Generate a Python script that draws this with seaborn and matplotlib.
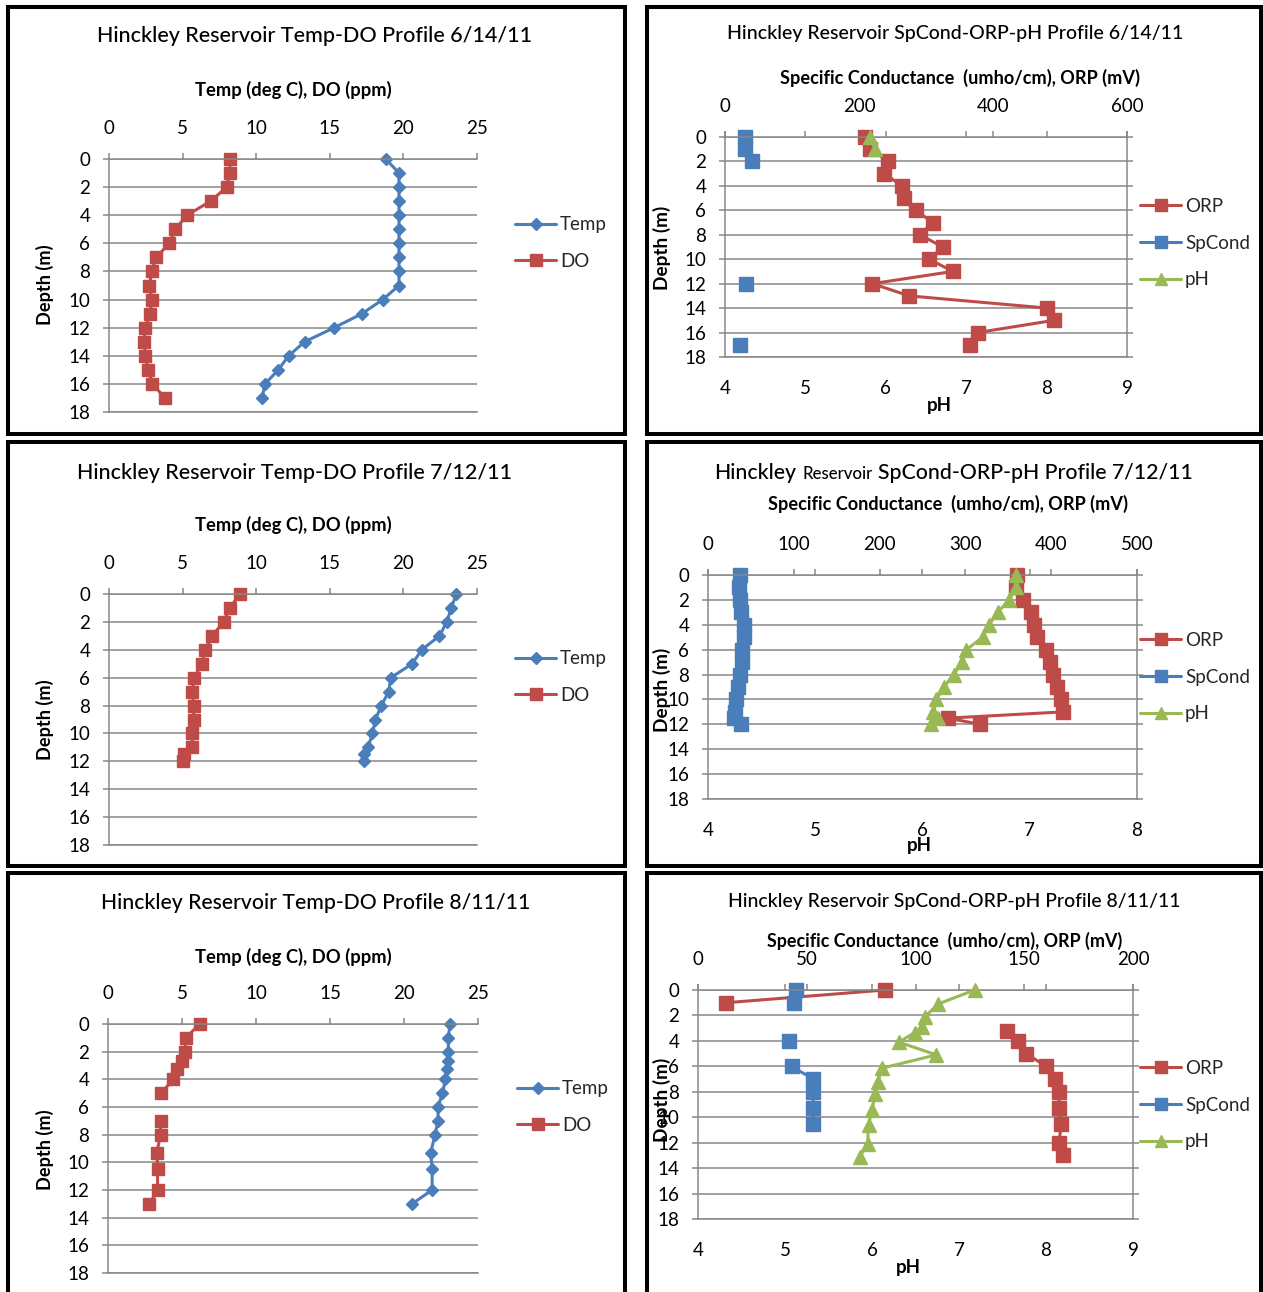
import numpy as np
import pandas as pd
import seaborn as sns
import matplotlib.pyplot as plt
import matplotlib.patches as patches
from matplotlib.lines import Line2D

nan = np.nan

# ---- 6/14/11 ----
depth_0614 = [0, 1, 2, 3, 4, 5, 6, 7, 8, 9, 10, 11, 12, 13, 14, 15, 16, 17]
temp_0614 = [18.8, 19.7, 19.7, 19.7, 19.7, 19.7, 19.7, 19.7, 19.7, 19.7, 18.6, 17.2, 15.3, 13.3, 12.2, 11.5, 10.6, 10.4]
do_0614 = [8.2, 8.2, 8.0, 6.9, 5.3, 4.5, 4.1, 3.2, 2.9, 2.75, 2.9, 2.8, 2.45, 2.4, 2.45, 2.65, 2.95, 3.8]
orp_0614 = [209, 217, 244, 238, 264, 267, 285, 310, 291, 325, 305, 340, 220, 275, 481, 491, 377, 366]
spcond_0614 = [30, 30, 41, nan, nan, nan, nan, nan, nan, nan, nan, nan, 31, nan, nan, nan, nan, 23]
ph_depth_0614 = [0, 1]
ph_0614 = [5.80, 5.87]

# ---- 7/12/11 ----
depth_0712 = [0, 1, 2, 3, 4, 5, 6, 7, 8, 9, 10, 11, 11.5, 12]
temp_0712 = [23.6, 23.25, 22.95, 22.45, 21.25, 20.6, 19.15, 19.0, 18.5, 18.1, 17.9, 17.6, 17.35, 17.35]
do_0712 = [8.9, 8.2, 7.8, 7.0, 6.55, 6.3, 5.8, 5.65, 5.75, 5.75, 5.65, 5.65, 5.1, 5.0]
orp_0712 = [360, 359, 367, 377, 380, 384, 394, 399, 402, 407, 411, 414, 280, 317]
spcond_0712 = [37, 36, 37, 39, 42, 42, 40, 40, 37, 35, 33, 32, 30, 39]
ph_0712 = [6.87, 6.87, 6.81, 6.70, 6.62, 6.56, 6.41, 6.37, 6.29, 6.20, 6.13, 6.10, 6.14, 6.08]

# ---- 8/11/11 ----
depth_0811 = [0, 1, 2, 2.7, 3.25, 4, 5, 6, 7, 8, 9.3, 10.5, 12, 13]
temp_0811 = [23.1, 23.0, 23.0, 23.0, 22.9, 22.8, 22.6, 22.3, 22.3, 22.1, 21.8, 21.9, 21.9, 20.55]
do_0811 = [6.2, 5.25, 5.2, 5.0, 4.65, 4.4, 3.6, nan, 3.55, 3.55, 3.3, 3.35, 3.35, 2.8]
orp_depth_0811 = [0, 1, 2, 3.2, 4, 5, 6, 7, 8, 9.3, 10.5, 12, 13]
orp_0811 = [86, 13, nan, 142, 147, 151, 160, 164, 166, 166, 167, 166, 168]
spcond_depth_0811 = [0, 1, 2, 4, 5, 6, 7, 8, 9.3, 10.5]
spcond_0811 = [45, 44, nan, 42, nan, 43, 53, 53, 53, 53]
ph_depth_0811 = [0, 1.1, 2.1, 2.9, 3.35, 4.1, 5.1, 6.15, 7.2, 8.15, 9.4, 10.6, 12.1, 13.1]
ph_0811 = [7.18, 6.76, 6.61, 6.57, 6.49, 6.31, 6.74, 6.11, 6.07, 6.04, 6.0, 5.96, 5.95, 5.86]

BLUE = '#4a7ebb'
RED = '#be4b48'
GREEN = '#98b954'
GRID = '#878787'
TICK = 13.5

sns.set_theme(style="white")
plt.rcParams['font.family'] = ['Lato', 'DejaVu Sans']

W, H = 1263, 1292
fig = plt.figure(figsize=(W / 100, H / 100), dpi=100)
fig.patch.set_facecolor('white')
renderer = fig.canvas.get_renderer()


def fx(x):
    return x / W


def fy(y):
    return 1 - y / H


def put_text(x, y, s, fit=None, size=14, rotation=0, **kw):
    kw.setdefault('ha', 'center')
    kw.setdefault('va', 'center')
    t = fig.text(fx(x), fy(y), s, fontsize=size, rotation=rotation, color='black', **kw)
    if fit:
        bb = t.get_window_extent(renderer)
        cur = bb.height if rotation == 90 else bb.width
        t.set_fontsize(size * fit / cur)
    return t


def add_ax(x0, y0, x1, y1):
    return fig.add_axes([fx(x0), fy(y1), (x1 - x0) / W, (y1 - y0) / H])


def profile(ax, depth, vals, color, marker, ms):
    df = pd.DataFrame({'depth': depth, 'val': vals})
    df['seg'] = df['val'].isna().cumsum()
    df = df.dropna()
    sns.lineplot(data=df, x='val', y='depth', units='seg', estimator=None, sort=False,
                 color=color, marker=marker, markersize=ms, markeredgecolor=color,
                 markeredgewidth=1, linewidth=2.2, clip_on=False, legend=False, ax=ax)
    ax.set_xlabel('')
    ax.set_ylabel('')


def style_depth(ax, right_spine):
    ax.set_ylim(18, 0)
    ax.set_yticks(range(0, 19, 2))
    ax.grid(axis='y', color=GRID, lw=1.1)
    ax.grid(axis='x', visible=False)
    for side in ['left', 'top', 'bottom', 'right']:
        ax.spines[side].set_color(GRID)
        ax.spines[side].set_linewidth(1.1)
    ax.spines['right'].set_visible(right_spine)
    ax.tick_params(axis='y', left=True, right=right_spine, labelleft=True, labelright=False,
                   length=4.5, width=1.1, color=GRID, pad=9, labelsize=TICK, labelcolor='black')


def top_ticks(ax):
    ax.tick_params(axis='x', top=True, bottom=False, labeltop=True, labelbottom=False,
                   length=4.5, width=1.1, color=GRID, pad=11.5, labelsize=TICK, labelcolor='black')


def add_legend(ax, items, x, y):
    handles = [Line2D([], [], color=c, marker=m, markersize=ms, markeredgecolor=c, lw=2.2)
               for _, c, m, ms in items]
    ax.legend(handles, [it[0] for it in items], loc='center left',
              bbox_to_anchor=(fx(x), fy(y)), bbox_transform=fig.transFigure,
              frameon=False, fontsize=TICK, handlelength=2.2, handletextpad=0.2,
              labelspacing=1.05, borderpad=0, borderaxespad=0)


def temp_do_panel(rect, depth, temp, do, title, tpos, lab_y, depth_y, leg):
    ax = add_ax(*rect)
    profile(ax, depth, temp, BLUE, 'D', 6.3)
    profile(ax, depth, do, RED, 's', 9)
    ax.set_xlim(0, 25)
    ax.set_xticks(range(0, 26, 5))
    style_depth(ax, False)
    top_ticks(ax)
    put_text(tpos[0], tpos[1], title, fit=tpos[2], size=16, fontweight='medium')
    put_text(293, lab_y, 'Temp (deg C), DO (ppm)', fit=195, size=13, fontweight='bold')
    put_text(45, depth_y, 'Depth (m)', fit=80, size=13, rotation=90, fontweight='bold')
    add_legend(ax, [('Temp', BLUE, 'D', 6.3), ('DO', RED, 's', 8)], leg[0], leg[1])
    return ax


def chem_panel(rect, orp_d, orp, sp_d, sp, ph_d, ph, xmax, xstep, phmax, lab, depth_y, ph_pos, leg_y):
    ax = add_ax(*rect)
    profile(ax, orp_d, orp, RED, 's', 9.5)
    profile(ax, sp_d, sp, BLUE, 's', 9.5)
    ax.set_xlim(0, xmax)
    ax.set_xticks(np.arange(0, xmax + 1, xstep))
    style_depth(ax, True)
    ax2 = ax.twiny()
    profile(ax2, ph_d, ph, GREEN, '^', 9.5)
    ax2.set_xlim(4, phmax)
    ax2.set_xticks(range(4, phmax + 1))
    ax2.set_ylim(18, 0)
    for s in ax2.spines.values():
        s.set_visible(False)
    ax2.grid(False)
    # twiny moves the primary ticks to the bottom, so set both axes afterwards
    top_ticks(ax)
    ax2.tick_params(axis='x', top=True, bottom=False, labeltop=False, labelbottom=True,
                    length=4.5, width=1.1, color=GRID, pad=12, labelsize=TICK, labelcolor='black')
    put_text(lab[0], lab[1], 'Specific Conductance  (umho/cm), ORP (mV)', fit=lab[2], size=13,
             fontweight='bold')
    put_text(662, depth_y, 'Depth (m)', fit=84, size=13, rotation=90, fontweight='bold')
    put_text(ph_pos[0], ph_pos[1], 'pH', size=TICK, fontweight='bold')
    add_legend(ax2, [('ORP', RED, 's', 8), ('SpCond', BLUE, 's', 8), ('pH', GREEN, '^', 8)],
               1140, leg_y)
    return ax, ax2


# panel frames
for (x0, y0, x1, y1) in [(8, 7, 625, 434), (647, 7, 1261, 434),
                         (8, 441.5, 625, 865.5), (647, 441.5, 1261, 865.5),
                         (8, 872.5, 625, 1310), (647, 872.5, 1261, 1310)]:
    fig.add_artist(patches.Rectangle((fx(x0), fy(y1)), (x1 - x0) / W, (y1 - y0) / H,
                                     transform=fig.transFigure, fill=False,
                                     edgecolor='black', linewidth=2.9))

temp_do_panel((109, 159, 477, 412), depth_0614, temp_0614, do_0614,
              'Hinckley Reservoir Temp-DO Profile 6/14/11', (315, 36, 435), 90, 285, (515, 243))
temp_do_panel((109, 594, 477, 845), depth_0712, temp_0712, do_0712,
              'Hinckley Reservoir Temp-DO Profile 7/12/11', (295, 473, 435), 525, 720, (515, 677))
temp_do_panel((108, 1024, 478, 1273), depth_0811, temp_0811, do_0811,
              'Hinckley Reservoir Temp-DO Profile 8/11/11', (316, 903, 428), 957, 1150, (517, 1107))

chem_panel((725, 137, 1127, 357), depth_0614, orp_0614, depth_0614, spcond_0614,
           ph_depth_0614, ph_0614, 600, 200, 9, (960, 78, 358), 248, (939, 405), 243)
chem_panel((708, 575, 1137, 799), depth_0712, orp_0712, depth_0712, spcond_0712,
           depth_0712, ph_0712, 500, 100, 8, (948, 504, 358), 690, (919, 845), 677)
chem_panel((698, 990, 1133, 1219), orp_depth_0811, orp_0811, spcond_depth_0811, spcond_0811,
           ph_depth_0811, ph_0811, 200, 50, 9, (945, 941, 354), 1100, (908, 1267), 1105)

# titles of the chemistry panels
put_text(955, 34, 'Hinckley Reservoir SpCond-ORP-pH Profile 6/14/11', fit=458, size=16,
         fontweight='medium')
put_text(954, 901, 'Hinckley Reservoir SpCond-ORP-pH Profile 8/11/11', fit=452, size=16,
         fontweight='medium')
t3 = put_text(878, 479, 'SpCond-ORP-pH Profile 7/12/11', fit=315, size=16, ha='left',
              va='baseline', fontweight='medium')
put_text(714, 479, 'Hinckley', size=t3.get_fontsize(), ha='left', va='baseline',
         fontweight='medium')
put_text(803, 479, 'Reservoir', fit=70, size=12, ha='left', va='baseline', fontweight='medium')

fig.savefig('out.png', dpi=100)
